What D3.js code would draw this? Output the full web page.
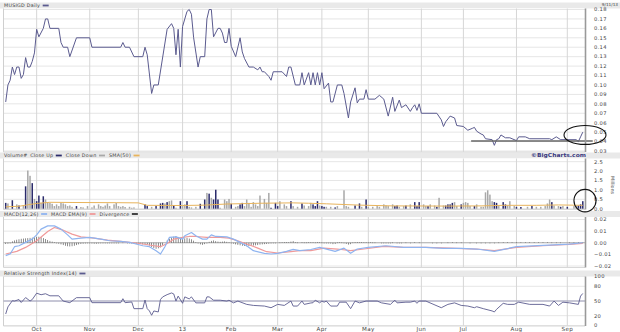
<!DOCTYPE html>
<html>
<head>
<meta charset="utf-8">
<script src="https://cdn.jsdelivr.net/npm/d3@7"></script>
<style>
html, body { margin: 0; padding: 0; background: #fff; }
svg { display: block; font-family: "DejaVu Sans", Verdana, sans-serif; }
</style>
</head>
<body>
<svg id="chart" width="620" height="332"></svg>
<script>
// session index (0 = 9/11/12 ... 261 = 9/11/13) and values
var monthTickDay = [14, 38, 60, 80, 102, 123, 143, 164, 188, 207, 231, 254];
var monthTickLabel = ['Oct', 'Nov', 'Dec', '13', 'Feb', 'Mar', 'Apr', 'May', 'Jun', 'Jul', 'Aug', 'Sep'];

var priceTicks = [0.03, 0.04, 0.05, 0.06, 0.07, 0.08, 0.09, 0.10, 0.11, 0.12, 0.13, 0.14, 0.15, 0.16, 0.17, 0.18];
var volumeTicks = [0, 0.5, 1.0, 1.5, 2.0, 2.5];
var macdTicks = [-0.02, -0.01, 0, 0.01, 0.02];
var rsiTicks = [0, 20, 50, 80, 100];

var priceClose = [[0,.082],[1,.100],[2,.105],[3,.119],[4,.111],[5,.119],[6,.119],[7,.107],[8,.111],[9,.129],[10,.119],[11,.119],[12,.125],[13,.134],[14,.159],[15,.151],[17,.160],[18,.170],[19,.170],[20,.160],[24,.160],[25,.145],[26,.140],[28,.140],[29,.130],[32,.150],[38,.150],[39,.140],[52,.140],[53,.145],[54,.140],[56,.140],[58,.130],[62,.130],[63,.140],[64,.132],[66,.091],[67,.100],[69,.100],[73,.159],[75,.165],[76,.160],[77,.132],[78,.159],[79,.119],[80,.162],[82,.178],[83,.180],[84,.175],[85,.150],[87,.119],[88,.130],[90,.130],[91,.170],[92,.180],[93,.180],[94,.151],[96,.160],[97,.160],[98,.155],[99,.145],[100,.145],[101,.160],[102,.141],[104,.130],[106,.150],[107,.135],[108,.128],[110,.119],[112,.119],[114,.116],[115,.119],[116,.114],[117,.114],[119,.109],[120,.105],[121,.114],[125,.114],[127,.109],[128,.119],[129,.119],[131,.100],[133,.100],[134,.113],[135,.100],[137,.113],[138,.100],[139,.113],[140,.100],[141,.113],[142,.100],[143,.113],[144,.096],[146,.102],[147,.082],[148,.082],[150,.100],[152,.100],[153,.091],[155,.065],[156,.082],[158,.097],[159,.081],[160,.085],[162,.085],[163,.095],[164,.085],[167,.085],[169,.089],[171,.085],[173,.067],[175,.087],[176,.072],[178,.084],[179,.076],[181,.079],[183,.072],[184,.076],[185,.079],[186,.073],[187,.080],[188,.070],[195,.070],[197,.063],[198,.056],[199,.061],[201,.067],[203,.065],[204,.057],[207,.056],[209,.052],[211,.054],[212,.055],[213,.051],[215,.048],[216,.047],[217,.043],[220,.042],[221,.036],[222,.042],[223,.043],[224,.047],[226,.044],[228,.044],[229,.043],[231,.041],[232,.045],[235,.045],[237,.043],[246,.043],[247,.042],[249,.045],[251,.042],[258,.042],[259,.040],[260,.045],[261,.050]];

var volumeUp = [[0,.31],[3,.45],[6,.17],[9,1.19],[12,1.36],[14,.40],[15,.70],[17,.66],[32,.14],[63,.23],[64,.14],[68,.14],[70,.28],[71,.31],[73,.35],[76,.17],[79,.40],[82,.40],[88,.26],[90,.49],[92,.80],[94,.49],[95,1.01],[96,.49],[102,.26],[106,.23],[107,.31],[120,.05],[122,.31],[123,.14],[129,.40],[134,.28],[139,.23],[140,.14],[141,.40],[143,.14],[144,.10],[149,.07],[158,.17],[160,.28],[163,.49],[176,.14],[177,.17],[181,.17],[185,.35],[186,.14],[187,.35],[191,.14],[195,.10],[199,.17],[200,.23],[201,.23],[202,.31],[206,.23],[212,.14],[221,.35],[222,.31],[225,.35],[226,.23],[231,.10],[233,.09],[238,.14],[247,.35],[251,.10],[254,.10],[259,.17],[260,.23],[261,.40]];

var volumeDown = [[1,.28],[5,.23],[8,.17],[10,2.03],[11,1.75],[13,.52],[16,.31],[18,.49],[19,.35],[20,.31],[21,.26],[22,.14],[23,.23],[24,.14],[25,.31],[26,.28],[27,.23],[28,.14],[29,.17],[30,.10],[34,.09],[35,.07],[37,.14],[39,.07],[40,.17],[42,.23],[43,.14],[44,.10],[45,.17],[46,.28],[47,.14],[49,.23],[50,.31],[51,.14],[52,.10],[53,.14],[54,.09],[56,.10],[57,.05],[58,.07],[66,.10],[72,.28],[74,.40],[75,.44],[77,.05],[80,.14],[81,.23],[83,.10],[84,.07],[86,.10],[91,.84],[93,.58],[97,.05],[99,.49],[100,.40],[101,.52],[104,.10],[105,.14],[108,.14],[109,.49],[110,.31],[111,.10],[112,.35],[113,.23],[114,.14],[115,.70],[117,.52],[118,.31],[119,.84],[124,.40],[126,.23],[127,.14],[130,.14],[132,.10],[135,.17],[137,.14],[138,.31],[142,.17],[145,.10],[147,.10],[150,.14],[153,.98],[154,.14],[155,.10],[161,.10],[164,.10],[166,.10],[168,.14],[169,.10],[171,.23],[172,.17],[173,.14],[175,.23],[178,.10],[180,.14],[183,.23],[189,.23],[190,.14],[192,.23],[194,.17],[196,.58],[198,.17],[203,.35],[204,.14],[207,.31],[208,.35],[209,.31],[210,.14],[213,.23],[215,.10],[216,.10],[217,.87],[218,.98],[219,.75],[220,.40],[223,.14],[227,.17],[228,.40],[230,.14],[236,.10],[240,.10],[242,.10],[244,.14],[245,.28],[246,.49],[248,.17],[250,.14],[252,.14],[257,.14],[258,.17]];

var volumeSma = [[0,.10],[6,.13],[14,.28],[20,.34],[30,.33],[50,.32],[60,.31],[64,.18],[80,.17],[90,.19],[100,.25],[115,.29],[130,.31],[137,.29],[145,.26],[160,.19],[175,.15],[200,.14],[215,.15],[225,.18],[240,.18],[250,.20],[261,.18]];

var macdLine = [[0,-.0111],[2,-.0097],[4,-.0034],[6,-.0026],[9,.0003],[12,.0031],[14,.0068],[16,.0117],[19,.0145],[22,.0145],[25,.0117],[28,.0068],[30,.0031],[34,.0040],[38,.0046],[43,.0031],[47,.0017],[52,.0011],[56,.0003],[59,-.0011],[62,-.0026],[65,-.0034],[68,-.0068],[70,-.0097],[72,-.0034],[74,.0046],[77,.0051],[80,.0031],[81,.0060],[84,.0088],[86,.0060],[89,.0031],[91,.0031],[93,.0068],[95,.0054],[100,.0051],[103,.0031],[106,.0003],[109,-.0026],[112,-.0068],[117,-.0091],[120,-.0097],[123,-.0091],[127,-.0074],[130,-.0057],[133,-.0068],[138,-.0058],[142,-.0040],[149,-.0074],[153,-.0046],[156,-.0091],[159,-.0054],[164,-.0040],[172,-.0026],[180,-.0040],[190,-.0040],[198,-.0048],[206,-.0048],[213,-.0054],[221,-.0074],[231,-.0034],[243,-.0023],[255,-.0011],[261,.0000]];

var macdSignal = [[0,-.0097],[5,-.0074],[9,-.0040],[14,.0017],[19,.0097],[22,.0131],[26,.0108],[30,.0074],[34,.0051],[40,.0040],[46,.0023],[52,.0011],[58,.0000],[62,-.0011],[67,-.0026],[70,-.0034],[73,-.0006],[76,.0031],[80,.0046],[83,.0054],[86,.0054],[91,.0046],[97,.0046],[101,.0040],[104,.0023],[109,-.0011],[114,-.0046],[118,-.0077],[123,-.0088],[129,-.0077],[133,-.0068],[138,-.0068],[144,-.0046],[150,-.0054],[156,-.0068],[162,-.0054],[171,-.0031],[180,-.0040],[190,-.0040],[201,-.0046],[213,-.0054],[221,-.0068],[231,-.0040],[243,-.0026],[255,-.0014],[261,-.0006]];

var macdDivergence = [[0,-.0010],[1,-.0008],[2,-.0002],[3,.0012],[4,.0020],[5,.0026],[6,.0030],[7,.0034],[8,.0036],[9,.0038],[10,.0040],[11,.0042],[12,.0044],[13,.0046],[14,.0050],[15,.0052],[16,.0048],[17,.0040],[18,.0032],[19,.0024],[20,.0016],[21,.0010],[22,.0004],[23,-.0002],[24,-.0008],[25,-.0014],[26,-.0020],[27,-.0026],[28,-.0030],[29,-.0032],[30,-.0030],[31,-.0026],[32,-.0020],[33,-.0014],[34,-.0010],[35,-.0008],[36,-.0006],[37,-.0005],[38,-.0004],[39,-.0006],[40,-.0008],[41,-.0008],[42,-.0006],[43,-.0005],[44,-.0004],[45,-.0004],[46,-.0003],[47,-.0004],[48,-.0003],[49,-.0002],[50,-.0002],[51,-.0002],[53,.0002],[55,-.0002],[56,-.0004],[57,-.0006],[58,-.0010],[59,-.0012],[60,-.0010],[61,-.0008],[62,-.0014],[63,-.0010],[64,-.0016],[65,-.0024],[66,-.0036],[67,-.0046],[68,-.0052],[69,-.0048],[70,-.0040],[71,-.0020],[73,.0020],[74,.0034],[75,.0044],[76,.0052],[77,.0058],[78,.0050],[79,.0040],[80,.0032],[81,.0038],[82,.0042],[83,.0036],[84,.0030],[85,.0018],[86,.0006],[87,-.0006],[88,-.0014],[89,-.0018],[90,-.0012],[91,-.0006],[92,.0008],[93,.0016],[94,.0020],[95,.0014],[96,.0010],[97,.0008],[98,.0010],[99,.0012],[100,.0008],[101,.0004],[102,-.0002],[103,-.0008],[104,-.0014],[105,-.0018],[106,-.0022],[107,-.0026],[108,-.0028],[109,-.0030],[110,-.0028],[111,-.0026],[112,-.0024],[113,-.0022],[114,-.0020],[115,-.0016],[116,-.0014],[117,-.0012],[118,-.0010],[119,-.0008],[120,-.0006],[121,-.0004],[122,-.0002],[124,.0002],[125,.0004],[126,.0006],[127,.0006],[128,.0004],[129,.0010],[130,.0014],[131,.0004],[132,.0002],[134,.0004],[135,.0002],[136,.0002],[137,.0004],[138,.0004],[139,.0004],[140,.0002],[141,.0006],[142,.0004],[143,.0002],[144,-.0004],[145,-.0002],[146,-.0004],[147,-.0006],[148,-.0012],[149,-.0010],[150,.0002],[151,.0004],[152,.0002],[153,-.0004],[154,-.0010],[155,-.0016],[156,-.0012],[157,.0002],[158,.0006],[159,.0006],[160,.0004],[161,.0006],[162,.0004],[163,.0004],[164,.0002],[165,.0003],[166,.0002],[167,.0002],[170,-.0002],[171,-.0002],[172,-.0003],[173,-.0004],[174,-.0003],[175,.0002],[177,-.0002],[178,-.0003],[179,-.0002],[181,.0002],[183,-.0002],[185,.0003],[187,.0002],[193,-.0002],[195,-.0003],[197,-.0003],[200,.0002],[202,.0003],[204,.0002],[206,.0002],[210,-.0002],[213,-.0003],[215,-.0004],[217,-.0004],[219,-.0005],[221,-.0004],[223,.0002],[225,.0004],[227,.0005],[229,.0005],[231,.0004],[233,.0004],[235,.0003],[237,.0003],[239,.0004],[241,.0004],[243,.0003],[245,.0003],[247,.0002],[249,.0002],[251,.0002],[255,.0002],[257,.0002],[259,.0003],[261,.0004]];

var rsiValue = [[0,23.5],[1,38],[3,50.6],[4,49.9],[6,53],[7,47],[9,57],[11,50],[12,53],[14,66],[16,62.8],[18,64.8],[20,60.6],[24,60.6],[26,49.9],[29,46.6],[32,56.8],[38,56.8],[39,46.6],[52,46.6],[53,54.7],[54,46.6],[57,48],[58,34.4],[62,34.4],[63,52],[64,34.4],[65,29.7],[66,20.9],[67,29.7],[69,27.6],[70,53],[71,58.4],[73,63],[75,66.4],[76,64.4],[77,49.9],[78,60],[80,45.3],[81,58.4],[83,54.3],[84,58.4],[86,46.2],[90,46.2],[91,58.4],[92,58.4],[94,51.6],[97,51.6],[100,49.9],[101,51.6],[103,46.2],[105,49.9],[109,43.1],[112,41],[117,39.7],[120,36.3],[123,43.1],[126,41],[129,49.9],[130,39.7],[132,39.7],[134,49.9],[135,43.1],[138,46],[139,46.5],[140,51.6],[142,46.2],[143,49.9],[144,47.6],[145,49.9],[147,39.7],[150,39.7],[151,47.6],[154,47.6],[156,34.4],[158,49.9],[160,46.2],[163,49.9],[168,49.9],[170,46.2],[174,43.1],[176,51.6],[177,46.2],[181,47.6],[183,47.6],[185,49.9],[186,45.3],[187,49.9],[190,49.9],[197,36.3],[200,43.1],[203,46.2],[206,41],[209,39.7],[212,36.3],[213,38.3],[216,34.4],[220,29.7],[221,27.6],[222,33],[225,45.3],[227,43.1],[230,43.1],[232,47.6],[237,43.1],[243,43.1],[246,39.7],[248,49.9],[250,41],[252,47.6],[255,46.2],[259,43.1],[260,60],[261,65.4]];

var priceLegend = [['MUSIGD Daily', '#5b5b8f']];
var volumeLegend = [['Volume#', null], ['Close Up', '#2b2b6b'], ['Close Down', '#a8a8a8'], ['SMA(50)', '#e8b45c']];
var macdLegend = [['MACD(12,26)', '#8fb4f0'], ['MACD EMA(9)', '#f09a9a'], ['Divergence', '#333']];
var rsiLegend = [['Relative Strength Index(14)', '#5b5b8f']];

(function () {
	'use strict';
	var svg = d3.select('#chart'),
		x, panels, drawPanel, drawLegend, drawLine, drawBars,
		price, volume, macd, rsi;

	x = d3.scaleLinear().domain([-1, 262]).range([3.5, 585]);

	drawPanel = function (p) {
		var g = svg.append('g');
		g.append('rect').attr('x', 3.5).attr('y', p.top).attr('width', x(262) - 3.5)
			.attr('height', p.bottom - p.top).attr('fill', '#fff');
		// horizontal grid
		g.selectAll('line.h').data(p.ticks).enter().append('line')
			.attr('x1', 3.5).attr('x2', 585)
			.attr('y1', function (d) { return p.y(d); })
			.attr('y2', function (d) { return p.y(d); })
			.attr('stroke', '#e6e6e6').attr('stroke-width', 1);
		// month grid
		g.selectAll('line.v').data(monthTickDay).enter().append('line')
			.attr('x1', function (d) { return x(d); })
			.attr('x2', function (d) { return x(d); })
			.attr('y1', p.top).attr('y2', p.bottom)
			.attr('stroke', '#d6d6d6').attr('stroke-width', 1);
		g.append('line').attr('x1', 3.5).attr('x2', 3.5).attr('y1', p.top).attr('y2', p.bottom)
			.attr('stroke', '#cfcfcf');
		g.append('line').attr('x1', 3.5).attr('x2', 585).attr('y1', p.bottom).attr('y2', p.bottom)
			.attr('stroke', '#d8d8d8');
		g.selectAll('text').data(p.ticks).enter().append('text')
			.attr('x', 594)
			.attr('y', function (d) { return p.y(d); })
			.attr('dy', '0.35em')
			.attr('font-size', 5.2)
			.attr('letter-spacing', 0.3)
			.attr('fill', '#444')
			.text(p.fmt);
		p.g = g;
		return g;
	};

	drawLegend = function (y, items) {
		var cx = 4, g = svg.append('g');
		items.forEach(function (it) {
			var t = g.append('text').attr('x', cx).attr('y', y).attr('dy', '0.35em')
				.attr('font-size', 4.8).attr('letter-spacing', 0.25).attr('fill', '#444').text(it[0]);
			cx += t.node().getComputedTextLength() + 2.5;
			if (it[1]) {
				g.append('line').attr('x1', cx).attr('x2', cx + 6).attr('y1', y).attr('y2', y)
					.attr('stroke', it[1]).attr('stroke-width', 1.8);
				cx += 10;
			}
		});
	};

	drawLine = function (p, data, color, width) {
		p.g.append('path').datum(data)
			.attr('fill', 'none').attr('stroke', color).attr('stroke-width', width)
			.attr('stroke-linejoin', 'round')
			.attr('d', d3.line().x(function (d) { return x(d[0]); }).y(function (d) { return p.y(d[1]); }));
	};

	drawBars = function (p, data, color, width, base) {
		p.g.selectAll(null).data(data).enter().append('rect')
			.attr('x', function (d) { return x(d[0]) - width / 2; })
			.attr('width', width)
			.attr('y', function (d) { return Math.min(p.y(d[1]), p.y(base)); })
			.attr('height', function (d) { return Math.max(0.6, Math.abs(p.y(d[1]) - p.y(base))); })
			.attr('fill', color);
	};

	// header bands
	[[2.5, 8.5], [152.5, 158.5], [211, 217], [270.5, 276.5]].forEach(function (b) {
		svg.append('rect').attr('x', 0).attr('y', b[0]).attr('width', 620).attr('height', b[1] - b[0])
			.attr('fill', '#e9e9e9');
	});

	price = { top: 8.5, bottom: 152, y: d3.scaleLinear().domain([0.03, 0.18]).range([151, 9.5]),
		ticks: priceTicks, fmt: d3.format('.2f') };
	volume = { top: 158.5, bottom: 209.5, y: d3.scaleLinear().domain([0, 2.5]).range([208.7, 161.7]),
		ticks: volumeTicks, fmt: d3.format('.1f') };
	macd = { top: 217, bottom: 267.5, y: d3.scaleLinear().domain([-0.02, 0.02]).range([266, 219.5]),
		ticks: macdTicks, fmt: d3.format('.2f') };
	rsi = { top: 276.5, bottom: 326, y: d3.scaleLinear().domain([0, 100]).range([325.5, 276.5]),
		ticks: rsiTicks, fmt: d3.format('d') };
	panels = [price, volume, macd, rsi];
	panels.forEach(drawPanel);

	// price
	drawLine(price, priceClose, '#5b5b8f', 1);

	// volume
	drawBars(volume, volumeDown, '#a8a8a8', 1.5, 0);
	drawBars(volume, volumeUp, '#2b2b6b', 1.5, 0);
	drawLine(volume, volumeSma, '#e8b45c', 1);

	// macd
	macd.g.append('line').attr('x1', 3.5).attr('x2', 585)
		.attr('y1', macd.y(0)).attr('y2', macd.y(0)).attr('stroke', '#888').attr('stroke-width', 0.6);
	drawBars(macd, macdDivergence, '#444', 0.6, 0);
	drawLine(macd, macdSignal, '#f09a9a', 1.2);
	drawLine(macd, macdLine, '#8fb4f0', 1.2);

	// rsi
	rsi.g.append('line').attr('x1', 3.5).attr('x2', 585)
		.attr('y1', rsi.y(50)).attr('y2', rsi.y(50)).attr('stroke', '#9a9ab8').attr('stroke-width', 1);
	drawLine(rsi, rsiValue, '#5b5b8f', 0.9);

	// right axis edges
	panels.forEach(function (p) {
		svg.append('line').attr('x1', 585.5).attr('x2', 585.5).attr('y1', p.top).attr('y2', p.bottom)
			.attr('stroke', '#999').attr('stroke-width', 1.6);
	});

	// month labels
	svg.selectAll('text.month').data(monthTickDay).enter().append('text')
		.attr('x', function (d) { return x(d); })
		.attr('y', 330.5)
		.attr('text-anchor', 'middle')
		.attr('font-size', 5.6)
		.attr('letter-spacing', 0.3)
		.attr('fill', '#444')
		.text(function (d, i) { return monthTickLabel[i]; });

	drawLegend(5.5, priceLegend);
	drawLegend(155.5, volumeLegend);
	drawLegend(214, macdLegend);
	drawLegend(273.5, rsiLegend);

	svg.append('text').attr('x', 618).attr('y', 4.6).attr('dy', '0.35em').attr('text-anchor', 'end')
		.attr('font-size', 4.2).attr('fill', '#444').text('9/11/13');
	svg.append('text').attr('x', 586).attr('y', 155.5).attr('dy', '0.35em').attr('text-anchor', 'end')
		.attr('font-size', 5.4).attr('font-weight', 'bold').attr('fill', '#3a3a80')
		.attr('textLength', 55).attr('lengthAdjust', 'spacingAndGlyphs').text('\u00a9BigCharts.com');
	svg.append('text').attr('transform', 'translate(611,185) rotate(90)').attr('text-anchor', 'middle')
		.attr('font-size', 4.8).attr('fill', '#555').text('Millions');

	// hand-drawn annotations
	price.g.append('line')
		.attr('x1', x(210.5)).attr('x2', x(265.5))
		.attr('y1', price.y(0.0406)).attr('y2', price.y(0.0406))
		.attr('stroke', '#666').attr('stroke-width', 1.5);
	svg.append('ellipse')
		.attr('cx', x(262)).attr('cy', price.y(0.047))
		.attr('rx', x(271.5) - x(262)).attr('ry', price.y(0.037) - price.y(0.047))
		.attr('fill', 'none').attr('stroke', '#111').attr('stroke-width', 1.1);
	svg.append('ellipse')
		.attr('cx', x(262)).attr('cy', volume.y(0.43))
		.attr('rx', x(267) - x(262)).attr('ry', volume.y(0) - volume.y(0.6))
		.attr('fill', 'none').attr('stroke', '#111').attr('stroke-width', 1.1);
}());
</script>
</body>
</html>
